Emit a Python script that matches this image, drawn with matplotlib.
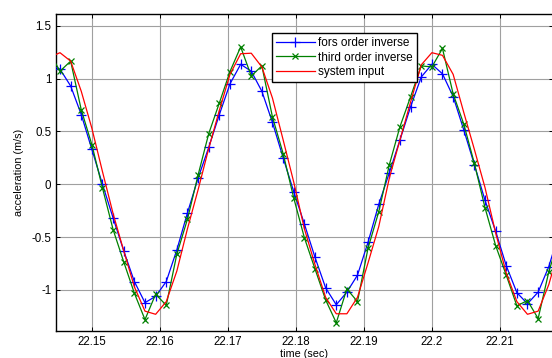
import matplotlib
matplotlib.use("Agg")
import matplotlib.pyplot as plt

plt.rcParams['font.family'] = ['Liberation Sans', 'DejaVu Sans']
plt.rcParams['axes.unicode_minus'] = False

time_s = [22.14373, 22.14529, 22.14686, 22.14842, 22.14998, 22.15154, 22.15311, 22.15467,
          22.15623, 22.15779, 22.15936, 22.16092, 22.16248, 22.16404, 22.16561, 22.16717,
          22.16873, 22.17029, 22.17186, 22.17342, 22.17498, 22.17654, 22.17811, 22.17967,
          22.18123, 22.18279, 22.18436, 22.18592, 22.18748, 22.18904, 22.19061, 22.19217,
          22.19373, 22.19529, 22.19686, 22.19842, 22.19998, 22.20154, 22.20311, 22.20467,
          22.20623, 22.20779, 22.20936, 22.21092, 22.21248, 22.21404, 22.21561, 22.21717,
          22.21873]

first_order = [1.13, 1.09, 0.93, 0.66, 0.33, 0.00, -0.32, -0.63, -0.92, -1.12, -1.06, -0.92,
               -0.62, -0.27, 0.06, 0.35, 0.66, 0.95, 1.135, 1.07, 0.88, 0.585, 0.25, -0.07,
               -0.375, -0.69, -0.98, -1.14, -1.02, -0.86, -0.545, -0.19, 0.11, 0.42, 0.735,
               1.015, 1.135, 1.045, 0.83, 0.515, 0.186, -0.15, -0.445, -0.77, -1.025, -1.13,
               -1.02, -0.78, -0.45]

third_order = [1.25, 1.07, 1.165, 0.705, 0.375, -0.035, -0.43, -0.735, -1.03, -1.28, -1.04,
               -1.145, -0.66, -0.33, 0.09, 0.48, 0.77, 1.066, 1.30, 1.025, 1.12, 0.636, 0.29,
               -0.13, -0.505, -0.80, -1.094, -1.31, -0.99, -1.11, -0.60, -0.26, 0.186, 0.545,
               0.83, 1.12, 1.11, 1.285, 0.855, 0.57, 0.197, -0.22, -0.58, -0.86, -1.15, -1.10,
               -1.27, -0.83, -0.50]

system_input = [1.20, 1.245, 1.165, 0.88, 0.53, 0.12, -0.28, -0.63, -0.97, -1.20, -1.23, -1.11,
                -0.82, -0.42, -0.05, 0.34, 0.70, 1.04, 1.235, 1.24, 1.11, 0.815, 0.42, 0.02,
                -0.42, -0.76, -1.07, -1.225, -1.225, -1.07, -0.74, -0.40, 0.06, 0.42, 0.78,
                1.13, 1.245, 1.22, 1.04, 0.68, 0.33, -0.03, -0.46, -0.84, -1.11, -1.23, -1.20,
                -0.95, -0.6]

x_ticks = [22.15, 22.16, 22.17, 22.18, 22.19, 22.20, 22.21]
x_tick_labels = ["22.15", "22.16", "22.17", "22.18", "22.19", "22.2", "22.21"]
y_ticks = [-1, -0.5, 0, 0.5, 1, 1.5]
y_tick_labels = ["-1", "-0.5", "0", "0.5", "1", "1.5"]

W, H = 552, 358
fig = plt.figure(figsize=(W / 100, H / 100), dpi=100)
L, R, T, B = 56, 553, 14, 331
ax = fig.add_axes([L / W, (H - B) / H, (R - L) / W, (B - T) / H])

ax.plot(time_s, first_order, color='#0000ff', lw=0.9, marker='+', ms=6.5, mew=0.9,
        label='fors order inverse', zorder=3)
ax.plot(time_s, third_order, color='#008000', lw=0.9, marker='x', ms=4, mew=0.9,
        label='third order inverse', zorder=3)
ax.plot(time_s, system_input, color='#ff0000', lw=0.9, label='system input', zorder=3)

ax.set_xlim(22.144706, 22.217794)
ax.set_ylim(-1.388, 1.611)
ax.set_xticks(x_ticks)
ax.set_xticklabels(x_tick_labels)
ax.set_yticks(y_ticks)
ax.set_yticklabels(y_tick_labels)
ax.tick_params(direction='in', length=3, width=0.7, top=True, right=True,
               labelsize=8.3, pad=3.5)
ax.grid(True, color='#a0a0a0', lw=0.8, ls='-')
ax.set_axisbelow(True)
for s in ax.spines.values():
    s.set_linewidth(1.0)

ax.set_xlabel('time (sec)', fontsize=7.8, labelpad=0.5)
ax.set_ylabel('acceleration (m/s)', fontsize=7.8, labelpad=5)

leg = ax.legend(loc='upper left', bbox_to_anchor=(0.434, 0.939), fontsize=8.5,
                frameon=True, fancybox=False, edgecolor='black', framealpha=1,
                handlelength=3.3, handletextpad=0.3, labelspacing=0.18,
                borderpad=0.35, borderaxespad=0)
leg.get_frame().set_linewidth(1.0)

fig.savefig('out.png', dpi=100)
